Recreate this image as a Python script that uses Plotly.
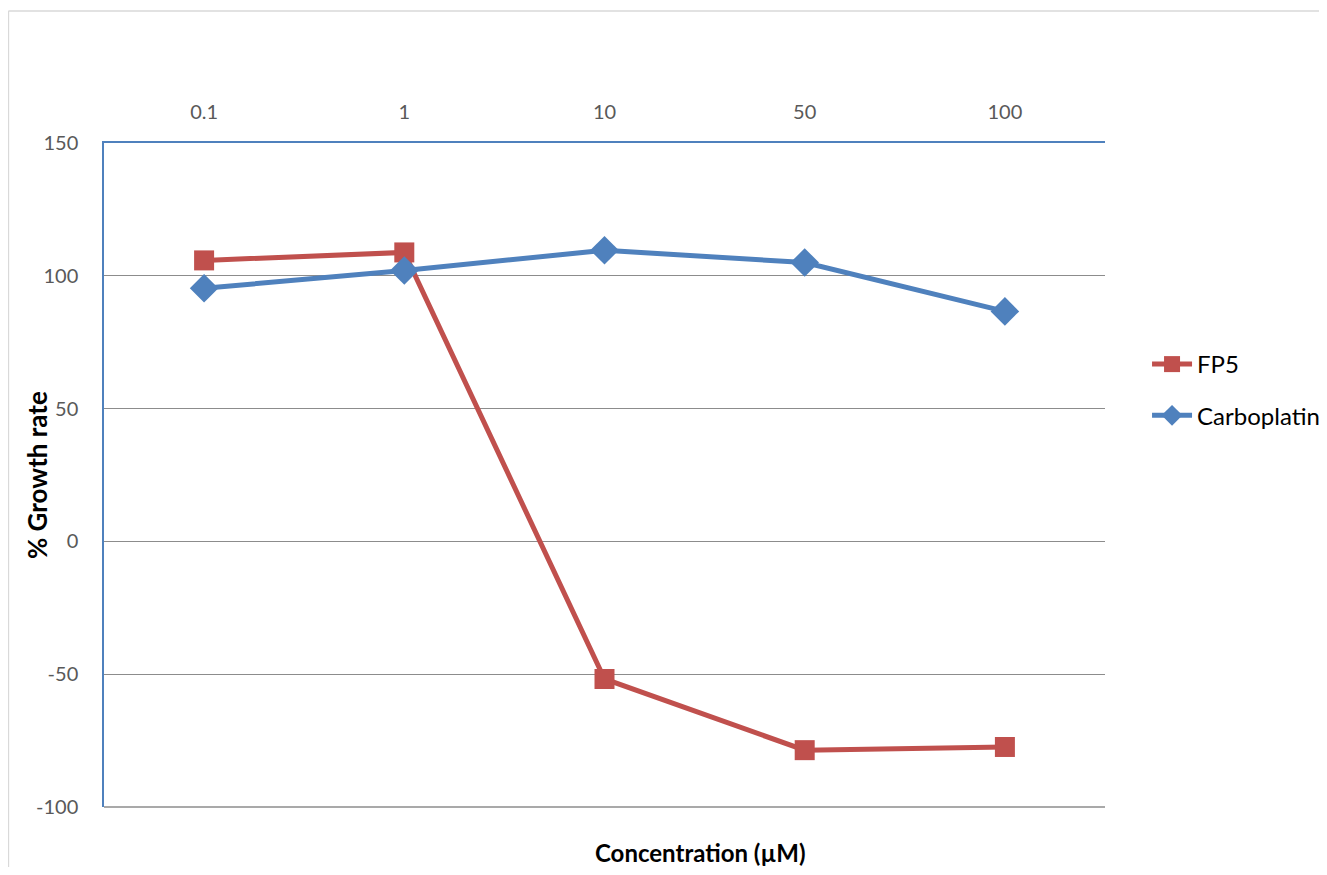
import plotly.graph_objects as go

concentrations = ["0.1", "1", "10", "50", "100"]
fp5 = [105.8, 108.8, -51.8, -78.6, -77.4]
carboplatin = [95.3, 102.0, 109.6, 105.0, 86.6]
y_ticks = [-100, -50, 0, 50, 100, 150]
y_tick_text = ["-100", "-50", "0", "50", "100", "150"]

RED = "#C0504D"
BLUE = "#4F81BD"
FONT = "Lato, 'Open Sans', 'Liberation Sans', sans-serif"

fig = go.Figure()
fig.add_trace(go.Scatter(
    x=concentrations, y=fp5, name="FP5", mode="lines+markers", legendgroup="a",
    line=dict(color=RED, width=5),
    marker=dict(symbol="square", size=20, color=RED),
))
fig.add_trace(go.Scatter(
    x=concentrations, y=carboplatin, name="Carboplatin", mode="lines+markers", legendgroup="b",
    line=dict(color=BLUE, width=5),
    marker=dict(symbol="diamond", size=22, color=BLUE),
))

fig.update_layout(
    width=1311, height=859,
    margin=dict(l=96, r=214, t=135, b=60, autoexpand=False),
    paper_bgcolor="white", plot_bgcolor="white",
    font=dict(family=FONT, size=20, color="#595959"),
    showlegend=True,
    legend=dict(x=1.042, y=0.628, xanchor="left", yanchor="middle",
                font=dict(size=24, color="#000000"),
                tracegroupgap=17, itemwidth=40, bgcolor="rgba(0,0,0,0)"),
    xaxis=dict(
        type="category", side="top", range=[-0.5, 4.5], automargin=False,
        showgrid=False, showline=True, linecolor=BLUE, linewidth=1.5,
        ticks="", ticklabelstandoff=14, tickfont=dict(size=20, color="#595959"),
        zeroline=False,
    ),
    yaxis=dict(
        range=[-100, 150], tickvals=y_ticks, ticktext=y_tick_text, automargin=False,
        showgrid=True, gridcolor="#8C8C8C", gridwidth=1.3,
        zeroline=False, showline=True, linecolor=BLUE, linewidth=1.5,
        ticks="", ticklabelstandoff=20, tickfont=dict(size=20, color="#595959"),
    ),
    annotations=[
        dict(text="<b>Concentration (µM)</b>", xref="paper", yref="paper",
             x=0.596, y=-0.068, xanchor="center", yanchor="middle", showarrow=False,
             font=dict(size=24, color="#000000", family=FONT)),
        dict(text="<b>% Growth rate</b>", xref="paper", yref="paper", textangle=-90,
             x=-0.0669, y=0.5, xanchor="center", yanchor="middle", showarrow=False,
             font=dict(size=26, color="#000000", family=FONT)),
    ],
    shapes=[
        dict(type="line", xref="paper", yref="paper", x0=0, x1=1, y0=0, y1=0,
             line=dict(color="#8C8C8C", width=1.5), layer="below"),
        dict(type="line", xref="paper", yref="paper", x0=-0.0955, x1=1.22, y0=1.1988, y1=1.1988,
             line=dict(color="#D9D9D9", width=1.5)),
        dict(type="line", xref="paper", yref="paper", x0=-0.0955, x1=-0.0955, y0=1.1988, y1=-0.1,
             line=dict(color="#D9D9D9", width=1.5)),
    ],
)

fig.write_html("out.html")
